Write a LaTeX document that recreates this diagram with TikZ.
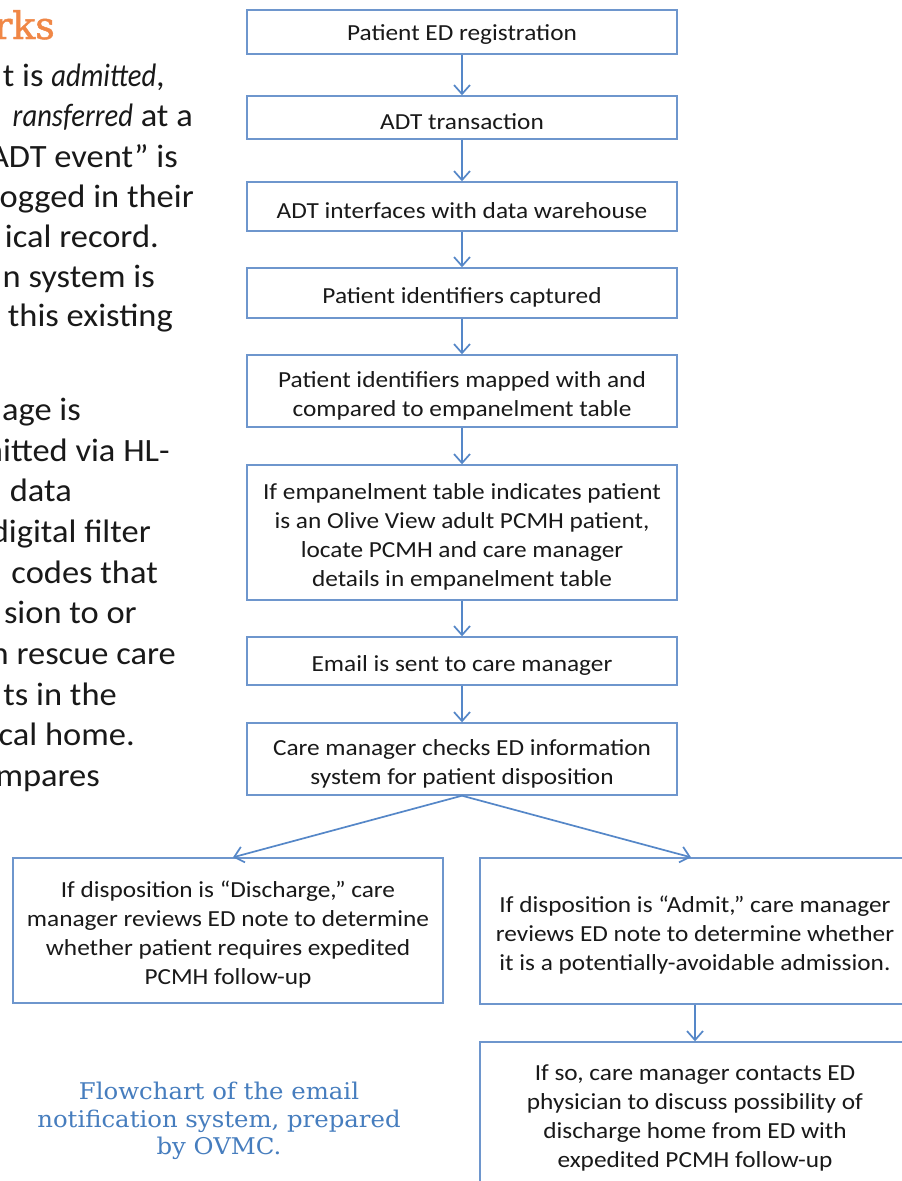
\documentclass[tikz,border=0pt]{standalone}
\usepackage{fontspec}
\setmainfont{Carlito}[FakeStretch=1.1]
\newfontfamily\leftfont{Carlito}[FakeStretch=1.06]
\newfontfamily\leftit{Carlito}[FakeStretch=0.88]
\newfontfamily\slabfont{DejaVu Serif}[FakeStretch=1.06]
\newfontfamily\titlefont{DejaVu Serif}[FakeBold=1.2]
\newcommand\topgap{\rule{0pt}{25pt}}
\usetikzlibrary{arrows.meta}
\definecolor{boxblue}{RGB}{110,150,205}
\definecolor{arrowblue}{RGB}{85,135,200}
\definecolor{capblue}{RGB}{70,125,190}
\definecolor{titleorange}{RGB}{240,135,70}
\definecolor{bodytext}{RGB}{25,25,25}
\tikzset{
  fbox/.style={draw=boxblue, line width=1.4pt, align=center, inner sep=0pt,
    minimum width=430pt, font=\fontsize{23}{29}\selectfont, text=bodytext},
  arr/.style={draw=arrowblue, line width=1.7pt, -{Straight Barb[length=9pt,width=16pt]}},
  bodyline/.style={anchor=base east, inner sep=0pt, font=\leftfont\fontsize{32.5}{38}\selectfont, text=bodytext},
  captext/.style={align=center, inner sep=0pt, text=capblue, font=\slabfont\fontsize{23}{27.5}\selectfont},
}
\begin{document}
\begin{tikzpicture}[x=1pt,y=-1pt]
\useasboundingbox (0,0) rectangle (902,1181);
\clip (0,0) rectangle (902,1181);
\fill[white] (0,0) rectangle (902,1181);
% left partial text
\node[anchor=base east, inner sep=0pt, text=titleorange, font=\titlefont\fontsize{38}{40}\selectfont] (title) at (55,39) {rks};
\node[bodyline] (l1) at (165,86) {t is {\leftit\itshape admitted},};
\node[bodyline] (l2) at (193,126.5) {{\leftit\itshape ransferred} at a};
\node[bodyline] (l3) at (178,167) {ADT event” is};
\node[bodyline] (l4) at (194,207) {ogged in their};
\node[bodyline] (l5) at (159,247) {ical record.};
\node[bodyline] (l6) at (155,287) {n system is};
\node[bodyline] (l7) at (173,326) {this existing};
\node[bodyline] (m1) at (81,420) {age is};
\node[bodyline] (m2) at (170,461) {mitted via HL-};
\node[bodyline] (m3) at (72,501) {data};
\node[bodyline] (m4) at (151,542) {digital filter};
\node[bodyline] (m5) at (158,583) {codes that};
\node[bodyline] (m6) at (137,623) {sion to or};
\node[bodyline] (m7) at (176,664) {n rescue care};
\node[bodyline] (m8) at (117,705) {ts in the};
\node[bodyline] (m9) at (135,745) {cal home.};
\node[bodyline] (m10) at (100,786) {mpares};
% flowchart
\node[fbox, minimum height=44pt] (b1) at (462,32) {\rule{0pt}{21pt}Patient ED registration};
\node[fbox, minimum height=43pt] (b2) at (462,117.5) {\topgap ADT transaction};
\node[fbox, minimum height=49pt] (b3) at (462,206.5) {\topgap ADT interfaces with data warehouse};
\node[fbox, minimum height=50pt] (b4) at (462,293) {\topgap Patient identifiers captured};
\node[fbox, minimum height=72pt] (b5) at (462,391) {\topgap Patient identifiers mapped with and\\compared to empanelment table};
\node[fbox, minimum height=135pt] (b6) at (462,532.5) {\topgap If empanelment table indicates patient\\is an Olive View adult PCMH patient,\\locate PCMH and care manager\\details in empanelment table};
\node[fbox, minimum height=48pt] (b7) at (462,661) {\topgap Email is sent to care manager};
\node[fbox, minimum height=72pt] (b8) at (462,759) {\topgap Care manager checks ED information\\system for patient disposition};
\node[fbox, minimum height=145pt] (L) at (228,930.5) {\topgap If disposition is “Discharge,” care\\manager reviews ED note to determine\\whether patient requires expedited\\PCMH follow-up};
\node[fbox, minimum height=146pt] (R) at (695,931) {\topgap If disposition is “Admit,” care manager\\reviews ED note to determine whether\\it is a potentially-avoidable admission.};
\node[fbox, minimum height=142pt] (B) at (695,1113) {\topgap If so, care manager contacts ED\\physician to discuss possibility of\\discharge home from ED with\\expedited PCMH follow-up};
\draw[arr] (b1) -- (b2);
\draw[arr] (b2) -- (b3);
\draw[arr] (b3) -- (b4);
\draw[arr] (b4) -- (b5);
\draw[arr] (b5) -- (b6);
\draw[arr] (b6) -- (b7);
\draw[arr] (b7) -- (b8);
\draw[arr] (b8.south) -- ([xshift=5pt]L.north);
\draw[arr] (b8.south) -- ([xshift=-4pt]R.north);
\draw[arr] (R) -- (B);
% caption
\node[captext] (cap) at (219,1121) {Flowchart of the email\\notification system, prepared\\by OVMC.};
\end{tikzpicture}
\end{document}
